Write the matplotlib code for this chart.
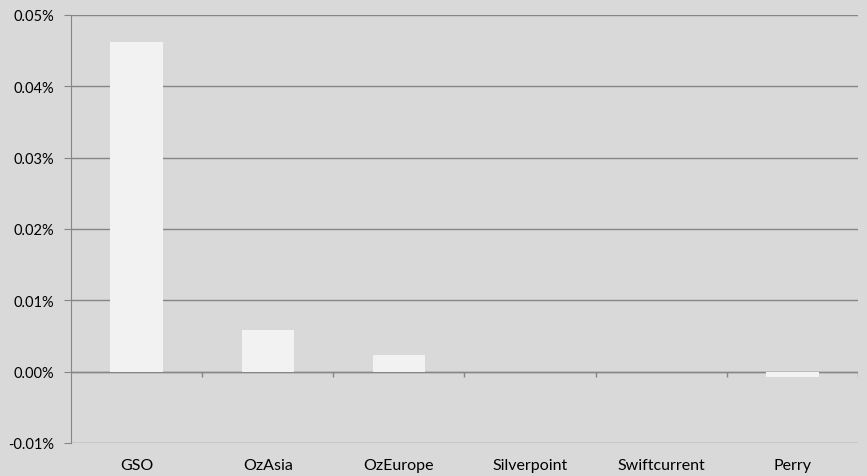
import numpy as np
import matplotlib
matplotlib.use('Agg')
import matplotlib.pyplot as plt
from matplotlib.ticker import FuncFormatter

categories = ["GSO", "OzAsia", "OzEurope", "Silverpoint", "Swiftcurrent", "Perry"]
values = [0.0462, 0.0059, 0.0024, 0.0, 0.0, -0.0008]  # percent
yticks = [-0.01, 0.0, 0.01, 0.02, 0.03, 0.04, 0.05]

bg = "#D9D9D9"
plt.rcParams['font.family'] = ['Lato', 'DejaVu Sans']

fig = plt.figure(figsize=(8.67, 4.77), dpi=100, facecolor=bg)
ax = fig.add_axes([0.0819, 0.0692, 0.9077, 0.8973])
ax.set_facecolor(bg)

x = np.arange(len(categories))
ax.bar(x, values, width=0.4, color="#F2F2F2", zorder=3)

ax.set_xlim(-0.5, len(categories) - 0.5)
ax.set_ylim(yticks[0], yticks[-1])
ax.set_yticks(yticks)
ax.yaxis.set_major_formatter(FuncFormatter(lambda v, p: f"{v:.2f}%"))
ax.grid(axis="y", color="#868686", linewidth=1, zorder=1)

# zero line with category separator ticks
ax.axhline(0, color="#868686", linewidth=1, zorder=2)
bounds = np.arange(len(categories) + 1) - 0.5
ax.vlines(bounds[1:], -0.0007, 0, color="#868686", linewidth=1, zorder=2)

ax.set_xticks(x)
ax.set_xticklabels(categories)
ax.tick_params(axis="x", length=0, pad=11, labelsize=11.5, colors="black")
ax.tick_params(axis="y", length=5, color="#868686", labelsize=10.5, pad=7)

for s in ["top", "right", "bottom"]:
    ax.spines[s].set_visible(False)
ax.spines["left"].set_color("#868686")

plt.savefig("out.png", dpi=100, facecolor=bg)
